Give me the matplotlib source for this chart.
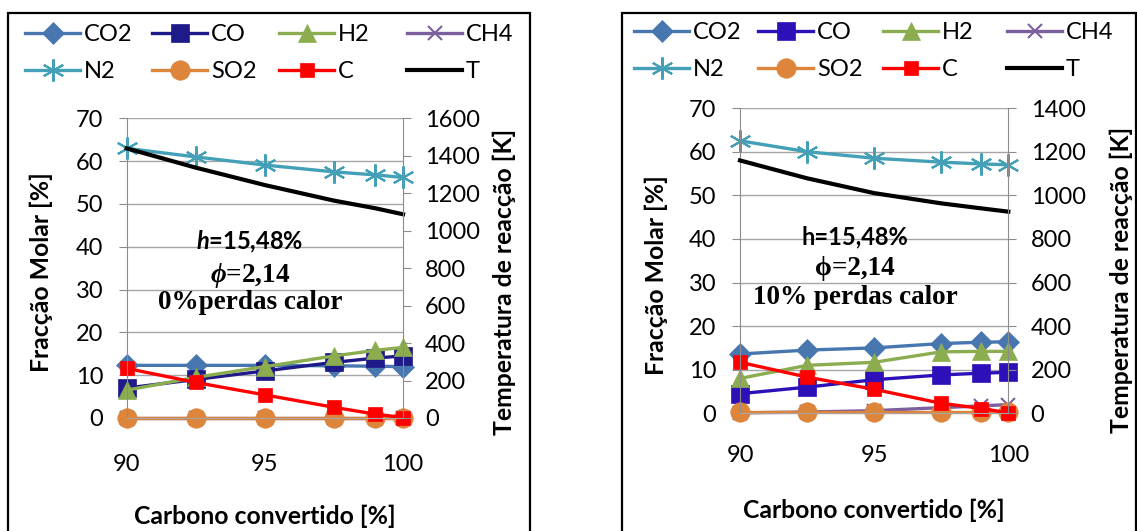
import matplotlib
matplotlib.use("Agg")
import matplotlib.pyplot as plt
from matplotlib.patches import Rectangle

# Carbono convertido [%]
x_conv = [90, 92.5, 95, 97.5, 99, 100]

# caso 0% perdas de calor
co2_a = [12.3, 12.3, 12.3, 12.2, 12.1, 12.0]
co_a = [7.0, 9.0, 11.0, 13.0, 14.0, 14.5]
h2_a = [6.5, 9.5, 12.0, 14.5, 15.8, 16.5]
ch4_a = [0.0, 0.0, 0.0, 0.0, 0.0, 0.0]
n2_a = [63.0, 61.0, 59.1, 57.5, 56.8, 56.2]
so2_a = [0.1, 0.1, 0.1, 0.1, 0.1, 0.1]
c_a = [11.6, 8.3, 5.4, 2.5, 0.9, 0.1]
t_a = [1440, 1337, 1244, 1161, 1120, 1088]

# caso 10% perdas de calor
co2_b = [13.6, 14.5, 15.0, 16.0, 16.3, 16.4]
co_b = [4.5, 6.0, 7.7, 8.8, 9.2, 9.4]
h2_b = [8.0, 11.0, 11.7, 14.1, 14.2, 14.2]
ch4_b = [0.1, 0.3, 0.6, 1.3, 1.7, 2.0]
n2_b = [62.5, 60.0, 58.5, 57.6, 57.2, 57.0]
so2_b = [0.2, 0.2, 0.2, 0.2, 0.2, 0.2]
c_b = [11.7, 8.3, 5.5, 2.3, 1.1, 0.1]
t_b = [1160, 1078, 1010, 963, 940, 925]

W, H = 1137, 531
plt.rcParams['font.family'] = ['Lato', 'DejaVu Sans']
plt.rcParams['mathtext.fontset'] = 'custom'
plt.rcParams['mathtext.rm'] = 'Lato:bold'
plt.rcParams['mathtext.it'] = 'Lato:italic:bold'
plt.rcParams['mathtext.bf'] = 'Lato:bold'
# phi em serif italico (Times)
plt.rcParams['mathtext.sf'] = 'Liberation Serif:italic:bold'

GRID = '#A6A6A6'
AXC = '#8C8C8C'
FS = 17
FS_LAB = 17.8

fig = plt.figure(figsize=(W / 100, H / 100), dpi=100)


def px(x0, y0, x1, y1):
    """caixa em pixeis -> fraccao da figura"""
    return [x0 / W, 1 - y1 / H, (x1 - x0) / W, (y1 - y0) / H]


def painel(rect, series, temp, tmax, co_color, lx_pad, yl_pos, yr_pos, xl_y):
    ax = fig.add_axes(rect)
    ax2 = ax.twinx()
    styles = [
        ('CO2', '#4877B0', 'D', 11),
        ('CO', co_color, 's', 13),
        ('H2', '#8CAD4F', '^', 13),
        ('CH4', '#7B5F9E', 'x', 10),
        ('N2', '#43A0B7', (6, 2, 0), 16),
        ('SO2', '#DE853C', 'o', 14),
        ('C', '#FF0000', 's', 10),
    ]
    handles = []
    for (name, col, mk, ms), vals in zip(styles, series):
        h, = ax.plot(x_conv, vals, color=col, lw=2.4, marker=mk, ms=ms,
                     mew=1.5 if mk in ('x', (6, 2, 0)) else 0.5,
                     mec=col, mfc=col, clip_on=False, label=name)
        handles.append(h)
    ht, = ax2.plot(x_conv, temp, color='black', lw=3, clip_on=False, label='T')
    handles.append(ht)

    ax.set_xlim(90, 100)
    ax.set_ylim(0, 70)
    ax.set_yticks(range(0, 71, 10))
    ax.set_xticks([90, 95, 100])
    ax2.set_ylim(0, tmax)
    ax2.set_yticks(range(0, tmax + 1, 200))
    ax.grid(axis='y', color=GRID, lw=1)
    ax.set_axisbelow(True)

    for s in ['top', 'right']:
        ax.spines[s].set_visible(False)
    for s in ['top', 'left', 'bottom']:
        ax2.spines[s].set_visible(False)
    ax.spines['left'].set_color(AXC)
    ax.spines['bottom'].set_color(GRID)
    ax2.spines['right'].set_color(AXC)

    ax.tick_params(axis='y', direction='out', length=6, color=AXC, pad=11, labelsize=FS)
    ax.tick_params(axis='x', length=0, pad=lx_pad, labelsize=FS)
    ax2.tick_params(axis='y', direction='out', length=6, color=AXC, pad=10, labelsize=FS)

    ax.set_xlabel('Carbono convertido [%]', fontsize=FS_LAB, fontweight='bold')
    ax.set_ylabel('Fracção Molar [%]', fontsize=FS_LAB, fontweight='bold')
    ax2.set_ylabel('Temperatura de reacção [K]', fontsize=FS_LAB, fontweight='bold')
    ax.yaxis.set_label_coords(*yl_pos)
    ax2.yaxis.set_label_coords(*yr_pos)
    ax.xaxis.set_label_coords(0.5, xl_y)
    return ax, handles


def legenda(handles, cols_x, row_y):
    # uma legenda por coluna, como no Excel (colunas de largura fixa)
    for i, x0 in enumerate(cols_x):
        hs = [handles[i], handles[i + 4]]
        fig.legend(handles=hs, loc='center left',
                   bbox_to_anchor=(x0 / W, 1 - row_y / H),
                   frameon=False, fontsize=FS, handlelength=2.35,
                   handletextpad=0.15, labelspacing=0.68, borderpad=0,
                   borderaxespad=0, numpoints=1)


def anotar(ax, x, ys, linhas):
    fams = [['Lato', 'DejaVu Sans'], ['Liberation Serif', 'DejaVu Serif'],
            ['Liberation Serif', 'DejaVu Serif']]
    sizes = [17, 19.5, 19.5]
    for y, txt, fam, sz in zip(ys, linhas, fams, sizes):
        ax.text(x, y, txt, transform=ax.transAxes, ha='center', va='center',
                family=fam, fontweight='bold', fontsize=sz)


# painel esquerdo
ax_a, hand_a = painel(px(126.7, 118.4, 403, 418),
                      [co2_a, co_a, h2_a, ch4_a, n2_a, so2_a, c_a], t_a, 1600,
                      '#1F1A8A', 26, (-0.267, 0.487), (1.326, 0.455), -0.29)
legenda(hand_a, [25, 152, 279, 407], 53)
anotar(ax_a, 0.446, [0.588, 0.477, 0.385],
       [r'$h$=15,48%', r'$\mathsf{\phi}$=2,14', '0%perdas calor'])

# painel direito
ax_b, hand_b = painel(px(740, 108.1, 1008.3, 413.3),
                      [co2_b, co_b, h2_b, ch4_b, n2_b, so2_b, c_b], t_b, 1400,
                      '#2E10B8', 23, (-0.268, 0.453), (1.379, 0.437), -0.28)
legenda(hand_b, [634, 758, 883, 1007], 51)
anotar(ax_b, 0.429, [0.579, 0.476, 0.378],
       ['h=15,48%', 'ϕ=2,14', '10% perdas calor'])

# molduras dos graficos
for x0, x1 in [(7.5, 530), (621.7, 1136)]:
    fig.add_artist(Rectangle((x0 / W, -0.05), (x1 - x0) / W, 1.05 - 12.7 / H,
                             transform=fig.transFigure, fill=False,
                             edgecolor='black', lw=1.6))

fig.savefig('out.png', dpi=100)
